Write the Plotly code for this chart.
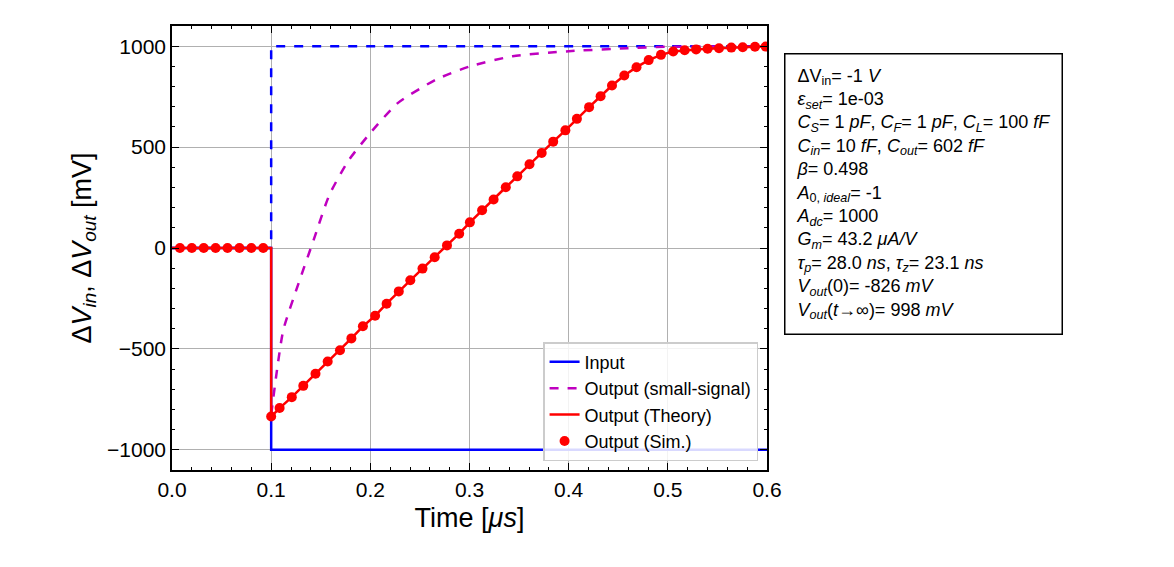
import plotly.graph_objects as go

# input step and ideal output
t_step = [0, 0.1, 0.1, 0.6]
v_input = [0, 0, -1000, -1000]
v_ideal = [0, 0, 1000, 1000]

# small-signal response
t_ss = [0.1, 0.106, 0.1123, 0.1277, 0.1432, 0.1586, 0.1778, 0.2, 0.2279, 0.2665,
        0.3012, 0.3435, 0.4, 0.4592, 0.5, 0.6]
v_ss = [-826, -600, -405, -174, 45, 262, 432, 570, 719, 835,
        901, 950, 975, 990, 997, 998]

# simulated output (also used for theory line)
t_sim = [0.008, 0.020, 0.032, 0.044, 0.056, 0.068, 0.080, 0.092,
         0.100, 0.1085, 0.1208, 0.1324, 0.1447, 0.1570, 0.1694, 0.1809, 0.1925, 0.2048,
         0.2164, 0.2287, 0.2403, 0.2526, 0.2649, 0.2773, 0.2896, 0.3004, 0.3127, 0.3243,
         0.3366, 0.3482, 0.3605, 0.3728, 0.3844, 0.3967, 0.4083, 0.4206, 0.4322, 0.4437,
         0.4561, 0.4684, 0.4807, 0.4931, 0.5054, 0.5170, 0.5285, 0.5401, 0.5516, 0.5640,
         0.5755, 0.5879, 0.5987]
v_sim = [0, 0, 0, 0, 0, 0, 0, 0,
         -835, -793, -739, -683, -623, -562, -507, -448, -388, -336,
         -276, -215, -160, -102, -46, 13, 71, 127, 187, 240,
         301, 355, 415, 471, 527, 583, 640, 698, 752, 805,
         855, 896, 931, 957, 974, 980, 984, 987, 990, 993,
         995, 997, 998]

t_th = [0, 0.1] + t_sim[8:]
v_th = [0, 0] + v_sim[8:]

fig = go.Figure()
fig.add_trace(go.Scatter(x=t_step, y=v_ideal, mode="lines", showlegend=False,
                         line=dict(color="blue", width=2.5, dash="dash")))
fig.add_trace(go.Scatter(x=t_step, y=v_input, mode="lines", name="Input",
                         line=dict(color="blue", width=2.5)))
fig.add_trace(go.Scatter(x=t_ss, y=v_ss, mode="lines", name="Output (small-signal)",
                         line=dict(color="#bf00bf", width=2.5, dash="dash",
                                   shape="spline", smoothing=0.6)))
fig.add_trace(go.Scatter(x=t_th, y=v_th, mode="lines", name="Output (Theory)",
                         line=dict(color="red", width=2.5)))
fig.add_trace(go.Scatter(x=t_sim, y=v_sim, mode="markers", name="Output (Sim.)",
                         marker=dict(color="red", size=10)))

info = ("ΔV<sub>in</sub>= -1 <i>V</i><br>"
        "<i>ε<sub>set</sub></i>= 1e-03<br>"
        "<i>C<sub>S</sub></i>= 1 <i>pF</i>, <i>C<sub>F</sub></i>= 1 <i>pF</i>, <i>C<sub>L</sub></i>= 100 <i>fF</i><br>"
        "<i>C<sub>in</sub></i>= 10 <i>fF</i>, <i>C<sub>out</sub></i>= 602 <i>fF</i><br>"
        "<i>β</i>= 0.498<br>"
        "<i>A</i><sub>0, <i>ideal</i></sub>= -1<br>"
        "<i>A<sub>dc</sub></i>= 1000<br>"
        "<i>G<sub>m</sub></i>= 43.2 <i>μA/V</i><br>"
        "<i>τ<sub>p</sub></i>= 28.0 <i>ns</i>, <i>τ<sub>z</sub></i>= 23.1 <i>ns</i><br>"
        "<i>V<sub>out</sub></i>(0)= -826 <i>mV</i><br>"
        "<i>V<sub>out</sub></i>(<i>t</i>→∞)= 998 <i>mV</i>")
fig.add_annotation(text=info, xref="paper", yref="paper", x=1.028, y=0.94,
                   xanchor="left", yanchor="top", align="left", showarrow=False,
                   font=dict(size=18, color="black"), bordercolor="black",
                   borderwidth=1.5, borderpad=11, bgcolor="white")

axis = dict(showline=True, linecolor="black", linewidth=1.5, mirror="ticks",
            ticks="inside", ticklen=7, tickcolor="black", showgrid=True,
            gridcolor="#b0b0b0", zeroline=False,
            tickfont=dict(size=21, color="black"),
            minor=dict(ticks="inside", ticklen=3.5, tickcolor="black", showgrid=False))
fig.update_xaxes(**axis, range=[0, 0.6], dtick=0.1, tickformat=".1f",
                 title=dict(text="Time [<i>μs</i>]", font=dict(size=27, color="black"),
                            standoff=8))
fig.update_yaxes(**axis, range=[-1100, 1100], dtick=500,
                 title=dict(text="Δ<i>V<sub>in</sub></i>, Δ<i>V<sub>out</sub></i> [mV]",
                            font=dict(size=27, color="black"), standoff=8))
fig.update_layout(
    width=1174, height=567, plot_bgcolor="white", paper_bgcolor="white",
    font=dict(family="Liberation Sans, Arial, sans-serif"),
    margin=dict(l=164, r=415, t=18, b=105),
    legend=dict(x=0.985, y=0.02, xanchor="right", yanchor="bottom",
                bgcolor="rgba(255,255,255,0.85)", bordercolor="#cccccc", borderwidth=1.5,
                font=dict(size=18, color="black")),
)
fig.write_html("out.html")
